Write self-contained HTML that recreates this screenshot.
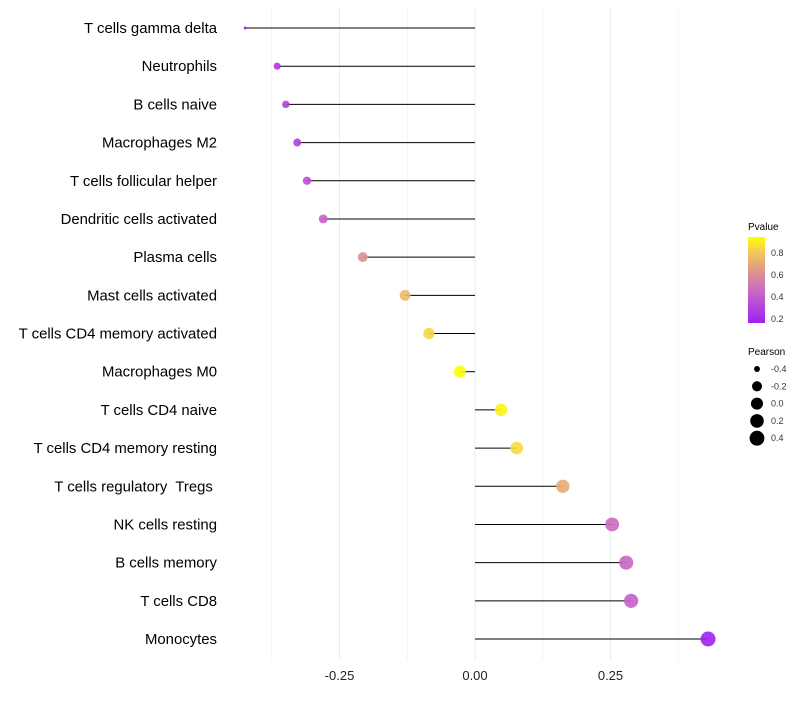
<!DOCTYPE html>
<html><head><meta charset="utf-8"><style>
body{margin:0;background:#fff;font-family:"Liberation Sans",sans-serif;}
svg text{font-family:"Liberation Sans",sans-serif;white-space:pre;}
</style></head><body>
<svg id="chart" width="800" height="700" xmlns="http://www.w3.org/2000/svg">
<defs><linearGradient id="pg" x1="0" y1="1" x2="0" y2="0">
<stop offset="0" stop-color="#a020f0"/><stop offset="0.35" stop-color="#c865c8"/><stop offset="0.65" stop-color="#e2a080"/><stop offset="0.85" stop-color="#f5d050"/><stop offset="1" stop-color="#ffff00"/></linearGradient></defs>
<g id="grid"></g>
<g id="marks"></g>
<g id="labels"></g>
<g id="xt"></g>
<g>
<text x="748" y="230" font-size="10" fill="#000">Pvalue</text>
<rect x="748" y="237" width="17" height="86" fill="url(#pg)"/>
<text x="771" y="256" font-size="9" fill="#333">0.8</text>
<text x="771" y="278" font-size="9" fill="#333">0.6</text>
<text x="771" y="300" font-size="9" fill="#333">0.4</text>
<text x="771" y="322" font-size="9" fill="#333">0.2</text>
</g>
<g id="sl">
<text x="748" y="355" font-size="10" fill="#000">Pearson</text>
</g>
</svg>
<script>
const categories=["T cells gamma delta","Neutrophils","B cells naive","Macrophages M2","T cells follicular helper","Dendritic cells activated","Plasma cells","Mast cells activated","T cells CD4 memory activated","Macrophages M0","T cells CD4 naive","T cells CD4 memory resting","T cells regulatory  Tregs ","NK cells resting","B cells memory","T cells CD8","Monocytes"];
const pearson=[-0.424,-0.365,-0.349,-0.328,-0.310,-0.280,-0.207,-0.129,-0.085,-0.028,0.048,0.077,0.162,0.253,0.279,0.288,0.430];
const pvalue=[0.17,0.25,0.27,0.28,0.32,0.38,0.55,0.70,0.82,0.93,0.90,0.83,0.65,0.42,0.40,0.38,0.16];
const xTicks=[-0.25,0,0.25];
const xTickLabels=["-0.25","0.00","0.25"];
const sizeLegend=[-0.4,-0.2,0,0.2,0.4];
const NS="http://www.w3.org/2000/svg";
const x=v=>475+v*542;
const y=i=>28+i*(639-28)/(categories.length-1);
const pMin=Math.min(...pearson),pMax=Math.max(...pearson);
const r=v=>1.5+6*Math.pow(Math.max(0,(v-pMin)/(pMax-pMin)),0.4);
function lerp(a,b,t){return a.map((c,i)=>Math.round(c+(b[i]-c)*t));}
const stops=[[0.155,[160,32,240]],[0.4,[200,101,200]],[0.6,[226,160,128]],[0.8,[245,208,80]],[0.936,[255,255,0]]];
function col(p){if(p<=stops[0][0])return "rgb("+stops[0][1]+")";for(let i=1;i<stops.length;i++){if(p<=stops[i][0]){const t=(p-stops[i-1][0])/(stops[i][0]-stops[i-1][0]);return "rgb("+lerp(stops[i-1][1],stops[i][1],t)+")";}}return "rgb(255,255,0)";}
function mk(t,a,p){const e=document.createElementNS(NS,t);for(const k in a)e.setAttribute(k,a[k]);p.appendChild(e);return e;}
const grid=document.getElementById('grid');
for(let v=-0.375;v<=0.4;v+=0.125){const g=mk('line',{x1:x(v),x2:x(v),y1:8,y2:660,stroke:Math.abs(v*4-Math.round(v*4))<1e-6?"#ebebeb":"#f3f3f3","stroke-width":1},grid);

}
const marks=document.getElementById('marks'),labels=document.getElementById('labels');
categories.forEach((c,i)=>{
const l=mk('line',{x1:x(0),x2:x(pearson[i]),y1:y(i),y2:y(i),stroke:"#000","stroke-width":1},marks);


const p=mk('circle',{cx:x(pearson[i]),cy:y(i),r:r(pearson[i]),fill:col(pvalue[i]),"fill-opacity":0.9},marks);


const t=mk('text',{x:217,y:y(i)+5,"text-anchor":"end","font-size":14.9,fill:"#000"},labels);t.textContent=c;


});
const xt=document.getElementById('xt');
xTicks.forEach((v,i)=>{const t=mk('text',{x:x(v),y:680,"text-anchor":"middle","font-size":13,fill:"#222"},xt);t.textContent=xTickLabels[i];

});
const sl=document.getElementById('sl');
sizeLegend.forEach((v,i)=>{const cy=369+i*17.3;
const c=mk('circle',{cx:757,cy:cy,r:r(v),fill:"#000"},sl);


const t=mk('text',{x:771,y:cy+3,"font-size":9,fill:"#333"},sl);t.textContent=v.toFixed(1);

});
</script>
</body></html>
